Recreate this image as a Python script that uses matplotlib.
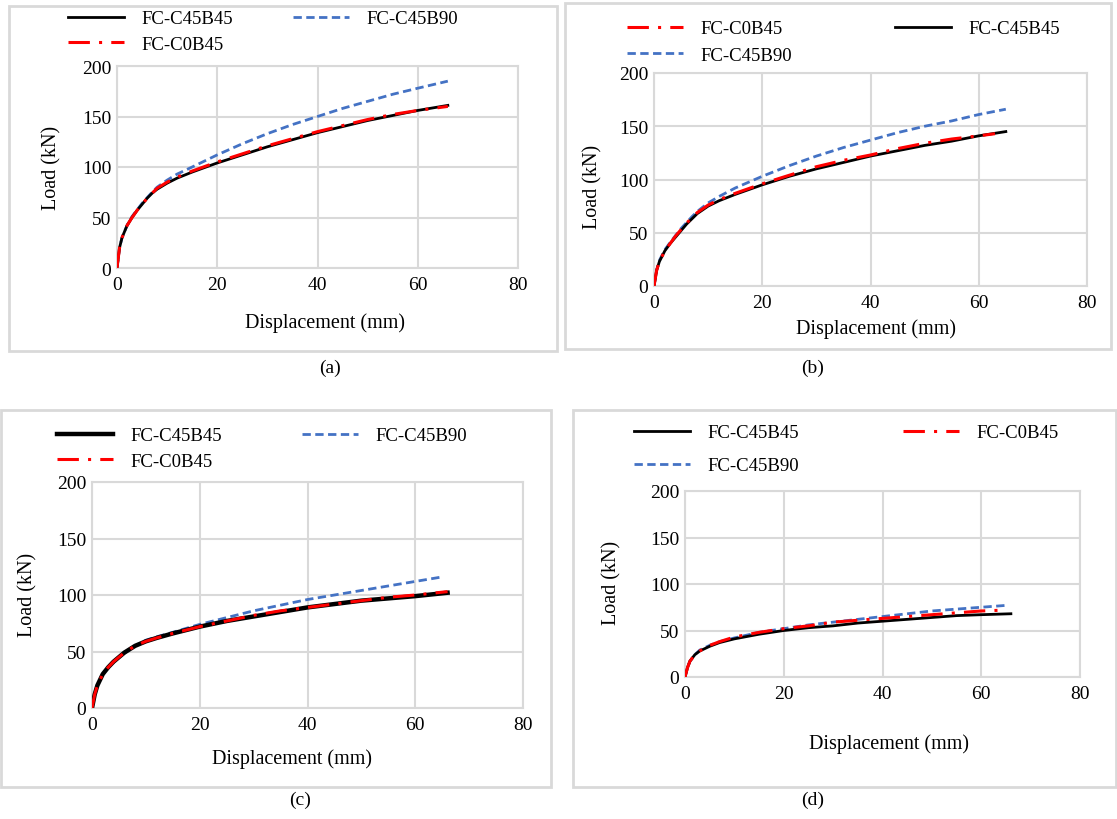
import matplotlib.pyplot as plt
from matplotlib.patches import Rectangle

plt.rcParams['font.family'] = ['Liberation Serif', 'DejaVu Serif']

W, H = 1117, 820

# ---- data (displacement mm, load kN) ----
# panel (a)
a_x_blk = [0, 0.5, 1, 2, 3, 4, 5, 6, 7, 8, 10, 12, 15, 20, 25, 30, 35, 40, 45, 50, 55, 60, 66]
a_y_blk = [0, 20, 30, 42, 50, 57, 63, 69, 74, 78, 84, 89, 95, 104, 112, 120, 127, 134, 140, 146, 151, 156, 161]
a_x_red = [0, 0.5, 1, 2, 3, 4, 5, 6, 7, 8, 10, 12, 15, 20, 25, 30, 35, 40, 45, 50, 55, 60, 66]
a_y_red = [0, 20, 30, 42, 50, 57, 63, 69, 74, 79, 85, 90, 96, 105, 113, 121, 128, 135, 141, 147, 152, 156, 160]
a_x_blu = [0, 0.5, 1, 2, 3, 5, 7, 8, 10, 12, 15, 20, 25, 30, 35, 40, 45, 50, 55, 60, 66]
a_y_blu = [0, 20, 30, 42, 51, 64, 75, 80, 87, 93, 100, 112, 123, 133, 142, 150, 158, 165, 172, 178, 185]

# panel (b)
b_x_blk = [0, 0.5, 1, 2, 3, 4, 5, 6, 7, 8, 10, 12, 15, 20, 25, 30, 35, 40, 45, 50, 55, 60, 65]
b_y_blk = [0, 15, 23, 33, 40, 46, 52, 58, 63, 68, 75, 80, 86, 95, 103, 110, 116, 122, 127, 132, 136, 141, 145]
b_x_red = [0, 0.5, 1, 2, 3, 4, 5, 6, 7, 8, 10, 12, 15, 20, 25, 30, 35, 40, 45, 50, 55, 60, 63]
b_y_red = [0, 15, 23, 33, 40, 47, 53, 59, 64, 69, 76, 81, 87, 96, 104, 112, 118, 123, 129, 134, 138, 141, 143]
b_x_blu = [0, 0.5, 1, 2, 3, 5, 7, 8, 10, 12, 15, 20, 25, 30, 35, 40, 45, 50, 55, 60, 65]
b_y_blu = [0, 15, 24, 34, 41, 54, 65, 70, 78, 84, 92, 103, 113, 122, 130, 137, 144, 150, 155, 161, 166]

# panel (c)
c_x_blk = [0, 0.5, 1, 2, 3, 4, 5, 6, 7, 8, 10, 12, 15, 20, 25, 30, 35, 40, 45, 50, 55, 60, 66]
c_y_blk = [0, 12, 20, 30, 36, 41, 45, 49, 52, 55, 59, 62, 66, 72, 77, 81, 85, 89, 92, 95, 97, 99, 102]
c_x_red = [0, 0.5, 1, 2, 3, 4, 5, 6, 7, 8, 10, 12, 15, 20, 25, 30, 35, 40, 45, 50, 55, 60, 66]
c_y_red = [0, 12, 20, 30, 36, 41, 45, 49, 52, 55, 59, 62, 66, 72, 77, 82, 86, 89, 92, 95, 98, 100, 103]
c_x_blu = [0, 0.5, 1, 2, 3, 5, 7, 8, 10, 12, 15, 20, 25, 30, 35, 40, 45, 50, 55, 60, 65]
c_y_blu = [0, 12, 20, 30, 36, 45, 52, 55, 60, 63, 67, 74, 80, 86, 91, 96, 100, 104, 108, 112, 116]

# panel (d)
d_x_blk = [0, 0.5, 1, 2, 3, 5, 7, 10, 15, 20, 25, 30, 35, 40, 45, 50, 55, 60, 66]
d_y_blk = [0, 10, 17, 24, 28, 33, 37, 41, 46, 50, 53, 55, 58, 60, 62, 64, 66, 67, 68]
d_x_red = [0, 0.5, 1, 2, 3, 5, 7, 10, 15, 20, 25, 30, 35, 40, 45, 50, 55, 60, 65]
d_y_red = [0, 10, 17, 24, 28, 34, 38, 43, 48, 52, 55, 59, 61, 63, 65, 67, 69, 71, 72]
d_x_blu = [0, 0.5, 1, 2, 3, 5, 7, 10, 15, 20, 25, 30, 35, 40, 45, 50, 55, 60, 65]
d_y_blu = [0, 10, 17, 24, 29, 34, 38, 42, 48, 52, 56, 59, 62, 65, 68, 71, 73, 75, 77]

x_ticks = [0, 20, 40, 60, 80]
y_ticks = [0, 50, 100, 150, 200]

BLK, RED, BLU = 'black', '#FF0000', '#4472C4'
GRID = '#D9D9D9'
FS_TICK = 14
FS_LAB = 14.5
FS_LEG = 13.5
FS_CAP = 14

fig = plt.figure(figsize=(W / 100, H / 100), dpi=100)


def fx(px):
    return px / W


def fy(py):
    return 1 - py / H


def panel(box, axbox, curves, cols, rows_y, lsp, xlab, ylab, cap, blk_lw=2.0):
    # grey frame round the whole sub figure
    x0, y0, x1, y1 = box
    fig.patches.append(Rectangle((fx(x0), fy(y1)), (x1 - x0) / W, (y1 - y0) / H,
                                 transform=fig.transFigure, fill=False,
                                 edgecolor=GRID, lw=2))
    l, t, r, b = axbox
    ax = fig.add_axes([fx(l), fy(b), (r - l) / W, (b - t) / H])
    handles = {}
    for key, (xs, ys) in curves.items():
        if key == 'blk':
            h, = ax.plot(xs, ys, color=BLK, lw=blk_lw, label='FC-C45B45', zorder=3)
        elif key == 'red':
            h, = ax.plot(xs, ys, color=RED, lw=2.2, ls=(0, (7, 3, 1, 3)),
                         label='FC-C0B45', zorder=4)
        else:
            h, = ax.plot(xs, ys, color=BLU, lw=2.0, ls=(0, (3, 1.6)),
                         label='FC-C45B90', zorder=2)
        handles[key] = h
    ax.set_xlim(0, 80)
    ax.set_ylim(0, 200)
    ax.set_xticks(x_ticks)
    ax.set_yticks(y_ticks)
    ax.tick_params(length=0, labelsize=FS_TICK, pad=4)
    ax.tick_params(axis='x', pad=6)
    ax.grid(True, color=GRID, lw=1.5)
    ax.set_axisbelow(True)
    for s in ax.spines.values():
        s.set_color(GRID)
        s.set_linewidth(1.5)
    ax.set_xlabel('Displacement (mm)', fontsize=FS_LAB)
    ax.set_ylabel('Load (kN)', fontsize=FS_LAB)
    ax.xaxis.set_label_coords((xlab[0] - l) / (r - l), (b - xlab[1]) / (b - t))
    ax.xaxis.label.set_va('center')
    ax.yaxis.set_label_coords((ylab[0] - l) / (r - l), (b - ylab[1]) / (b - t))
    ax.yaxis.label.set_va('center')
    # legend, laid out in two columns like the original
    for cx, keys in cols:
        hs = [handles[k] for k in keys]
        fig.legend(hs, [h.get_label() for h in hs], loc='upper left',
                   bbox_to_anchor=(fx(cx), fy(rows_y - 11)), frameon=False,
                   fontsize=FS_LEG, handlelength=3.0, handletextpad=0.9,
                   borderpad=0, borderaxespad=0, labelspacing=lsp)
    fig.text(fx(cap[0]), fy(cap[1]), cap[2], fontsize=FS_CAP, ha='center', va='center')
    return ax


panel((9, 7, 557, 352), (117, 67, 518, 269),
      {'blu': (a_x_blu, a_y_blu), 'blk': (a_x_blk, a_y_blk), 'red': (a_x_red, a_y_red)},
      [(68, ['blk', 'red']), (293, ['blu'])], 22, 0.45,
      (325, 323), (52, 168), (330, 368, '(a)'))

panel((565, 4, 1111, 350), (654, 74, 1087, 287),
      {'blu': (b_x_blu, b_y_blu), 'blk': (b_x_blk, b_y_blk), 'red': (b_x_red, b_y_red)},
      [(627, ['red', 'blu']), (895, ['blk'])], 32, 0.5,
      (876, 329), (593, 187), (813, 368, '(b)'))

panel((1, 411, 551, 788), (92, 483, 523, 709),
      {'blu': (c_x_blu, c_y_blu), 'blk': (c_x_blk, c_y_blk), 'red': (c_x_red, c_y_red)},
      [(57, ['blk', 'red']), (302, ['blu'])], 439, 0.45,
      (292, 759), (28, 595), (300, 800, '(c)'), blk_lw=3.2)

panel((573, 411, 1116, 788), (685, 492, 1080, 678),
      {'blu': (d_x_blu, d_y_blu), 'blk': (d_x_blk, d_y_blk), 'red': (d_x_red, d_y_red)},
      [(634, ['blk', 'blu']), (903, ['red'])], 436, 0.85,
      (889, 744), (612, 583), (813, 800, '(d)'))

fig.savefig('out.png', dpi=100)
